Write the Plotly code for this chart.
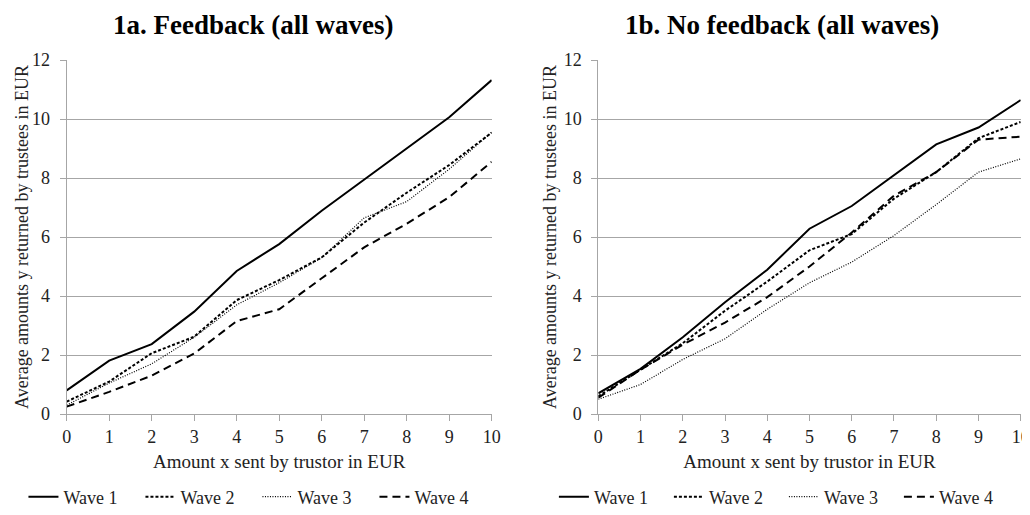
import plotly.graph_objects as go

x_sent = [0, 1, 2, 3, 4, 5, 6, 7, 8, 9, 10]
wave_names = ["Wave 1", "Wave 2", "Wave 3", "Wave 4"]

fb_wave1 = [0.8, 1.81, 2.37, 3.47, 4.85, 5.76, 6.89, 7.95, 9.0, 10.06, 11.32]
fb_wave2 = [0.42, 1.1, 2.06, 2.62, 3.86, 4.54, 5.31, 6.49, 7.5, 8.44, 9.54]
fb_wave3 = [0.3, 1.05, 1.7, 2.6, 3.7, 4.45, 5.3, 6.65, 7.2, 8.3, 9.55]
fb_wave4 = [0.25, 0.75, 1.3, 2.05, 3.15, 3.55, 4.6, 5.65, 6.45, 7.35, 8.55]

nf_wave1 = [0.7, 1.53, 2.6, 3.79, 4.89, 6.28, 7.05, 8.09, 9.14, 9.71, 10.64]
nf_wave2 = [0.6, 1.5, 2.4, 3.5, 4.49, 5.55, 6.1, 7.3, 8.2, 9.35, 9.9]
nf_wave3 = [0.5, 1.0, 1.85, 2.55, 3.55, 4.45, 5.15, 6.05, 7.1, 8.2, 8.65]
nf_wave4 = [0.55, 1.5, 2.35, 3.1, 3.96, 5.0, 6.15, 7.4, 8.2, 9.3, 9.4]

titles = ["1a. Feedback (all waves)", "1b. No feedback (all waves)"]
x_title = "Amount x sent by trustor in EUR"
y_title = "Average amounts y returned by trustees in EUR"

FONT = "Liberation Serif, Times New Roman, serif"
W, H, OFF = 1030, 515, 8


def px_x(p):
    return (p - OFF) / W


def px_y(p):
    return 1 - (p - OFF) / H


styles = [
    dict(color="black", width=2, dash="solid"),
    dict(color="black", width=2, dash="3px,2px"),
    dict(color="black", width=1.2, dash="1px,1.5px"),
    dict(color="black", width=2, dash="8px,5px"),
]

fig = go.Figure()
panels = [
    ([fb_wave1, fb_wave2, fb_wave3, fb_wave4], "x", "y", "legend"),
    ([nf_wave1, nf_wave2, nf_wave3, nf_wave4], "x2", "y2", "legend2"),
]
for series, xa, ya, lg in panels:
    for name, ys, st in zip(wave_names, series, styles):
        fig.add_trace(go.Scatter(x=x_sent, y=ys, mode="lines", name=name,
                                 line=st, xaxis=xa, yaxis=ya, legend=lg))

xdom = [[px_x(66.7), px_x(491.7)], [px_x(598.3), px_x(1020.7)]]
ydom = [px_y(414), px_y(60)]

axis_common = dict(
    showline=True, linecolor="#a6a6a6", linewidth=1,
    ticks="outside", tickcolor="#a6a6a6", ticklen=6,
    tickfont=dict(family=FONT, size=18, color="#222"),
    zeroline=False, automargin=False,
)
for i, (xk, yk) in enumerate([("xaxis", "yaxis"), ("xaxis2", "yaxis2")]):
    anchor_x = "y" if i == 0 else "y2"
    anchor_y = "x" if i == 0 else "x2"
    fig.layout[xk] = dict(
        domain=xdom[i], anchor=anchor_x, range=[0, 10], dtick=1,
        showgrid=False, ticklabelstandoff=0,
        title=dict(text=x_title, font=dict(family=FONT, size=19, color="#222"), standoff=9),
        **axis_common,
    )
    fig.layout[yk] = dict(
        domain=ydom, anchor=anchor_y, range=[0, 12], dtick=2,
        showgrid=True, gridcolor="#a6a6a6", gridwidth=1, ticklabelstandoff=6,
        **axis_common,
    )

ytitle_cx = [22, 550]
for cx in ytitle_cx:
    fig.add_annotation(text=y_title, x=px_x(cx), y=px_y(237), xref="paper", yref="paper",
                       xanchor="center", yanchor="middle", showarrow=False, textangle=-90,
                       font=dict(family=FONT, size=18, color="#222"))

title_cx = [253, 782]
for i, t in enumerate(titles):
    fig.add_annotation(text="<b>" + t + "</b>", x=px_x(title_cx[i]), y=px_y(25),
                       xref="paper", yref="paper",
                       xanchor="center", yanchor="middle", showarrow=False,
                       font=dict(family=FONT, size=27, color="black"))

legend_common = dict(orientation="h", yanchor="middle", y=px_y(497), xanchor="left",
                     font=dict(family=FONT, size=18, color="#222"),
                     bgcolor="rgba(0,0,0,0)", entrywidthmode="pixels",
                     itemwidth=30, tracegroupgap=0)
fig.update_layout(
    legend=dict(x=0.015, entrywidth=72, **legend_common),
    legend2=dict(x=0.53, entrywidth=70, **legend_common),
    width=W, height=H,
    margin=dict(l=0, r=0, t=0, b=0, pad=0, autoexpand=False),
    paper_bgcolor="white", plot_bgcolor="white",
    showlegend=True,
)

fig.write_html("out.html")
